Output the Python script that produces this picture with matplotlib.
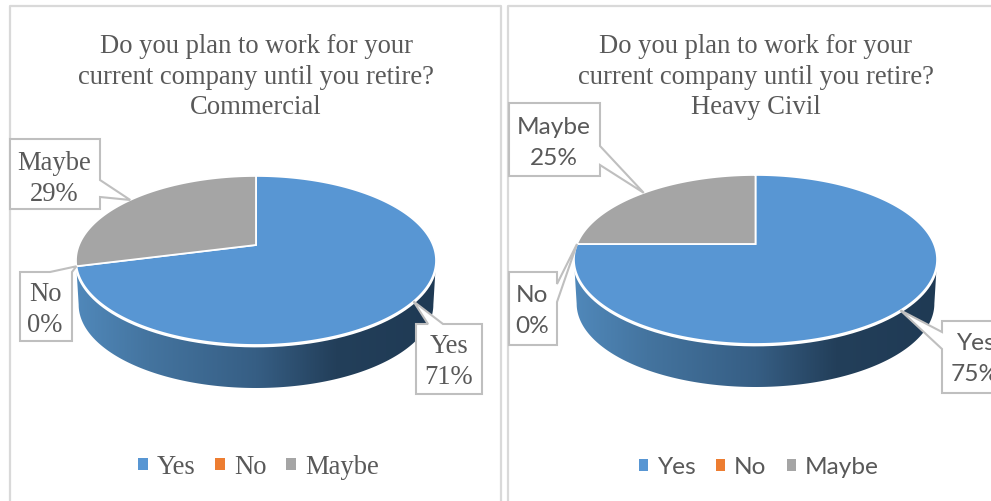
import numpy as np
import matplotlib
matplotlib.use('Agg')
import matplotlib.pyplot as plt
from matplotlib.colors import LinearSegmentedColormap
from matplotlib.patches import Patch, Polygon

categories = ['Yes', 'No', 'Maybe']
commercial_values = [71, 0, 29]
heavy_civil_values = [75, 0, 25]
title_lines = ['Do you plan to work for your', 'current company until you retire?']
commercial_name = 'Commercial'
heavy_civil_name = 'Heavy Civil'

colors = ['#5896d3', '#ed7d31', '#a5a5a5']
text_color = '#595959'
frame_color = '#d9d9d9'
callout_color = '#bfbfbf'
wall_cmap = LinearSegmentedColormap.from_list(
    'wall', [(0.0, '#5088ba'), (0.2, '#44749f'), (0.5, '#365e84'),
             (0.72, '#233f5a'), (1.0, '#1f3a54')])

FIG_W, FIG_H = 991, 502
PERSPECTIVE = 0.183
RY = 81.7
DEPTH = 44.5


def project(theta, cx, cy, rx, ry=RY):
    # clockwise from 12 o'clock, tilted disc seen in perspective
    u, v = np.sin(theta), np.cos(theta)
    d = 1 + PERSPECTIVE * v
    return cx + rx * u / d, cy - ry * v / d


def slice_angles(values):
    edges = np.cumsum([0] + list(values)) / np.sum(values) * 2 * np.pi
    return edges[:-1], edges[1:]


def draw_wall(ax, cx, cy, rx):
    theta = np.linspace(0, 2 * np.pi, 721)
    top_x, top_y = project(theta, cx, cy, rx)
    low_x, low_y = project(theta, cx, cy + DEPTH, rx * 0.985, RY * 0.985)
    i_right, i_left = np.argmax(low_x), np.argmin(low_x)
    j_right, j_left = np.argmax(top_x), np.argmin(top_x)
    xs = np.r_[top_x[j_right:j_left + 1], low_x[i_right:i_left + 1][::-1]]
    ys = np.r_[top_y[j_right:j_left + 1], low_y[i_right:i_left + 1][::-1]]
    clip = Polygon(np.c_[xs, ys], closed=True, fc='none', ec='none', transform=ax.transData)
    ax.add_patch(clip)
    im = ax.imshow(np.linspace(0, 1, 256)[None, :], cmap=wall_cmap, aspect='auto',
                   extent=(xs.min(), xs.max(), ys.max(), ys.min()), zorder=1)
    im.set_clip_path(clip)
    # white rim along the front of the disc
    ax.plot(top_x[j_right:j_left + 1], top_y[j_right:j_left + 1] + 1, color='white', lw=2.0, zorder=2)


def draw_pie(ax, values, cx, cy, rx):
    draw_wall(ax, cx, cy, rx)
    starts, stops = slice_angles(values)
    for start, stop, value, color in zip(starts, stops, values, colors):
        if value == 0:
            continue
        theta = np.linspace(start, stop, 240)
        x, y = project(theta, cx, cy, rx)
        ax.fill(np.r_[cx, x], np.r_[cy, y], fc=color, ec='white', lw=1.3, zorder=3, joinstyle='miter')


def draw_callout(ax, tip, box, side, base, zorder=5):
    x0, y0, x1, y1 = box
    a, b = base
    pts = [(x0, y0)]
    if side == 'top':
        pts += [(a, y0), tip, (b, y0)]
    pts += [(x1, y0)]
    if side == 'right':
        pts += [(x1, a), tip, (x1, b)]
    pts += [(x1, y1), (x0, y1)]
    if side == 'left':
        pts += [(x0, b), tip, (x0, a)]
    ax.add_patch(Polygon(pts, closed=True, fc='white', ec=callout_color, lw=1.5,
                         zorder=zorder, joinstyle='miter'))


def draw_panel(bounds, frame, values, name, center, rx, callouts, family, size, legend_xy, legend_opts):
    left, right = bounds
    ax = fig.add_axes([left / FIG_W, 0, (right - left) / FIG_W, 1])
    cx, cy = center
    draw_pie(ax, values, cx, cy, rx)

    starts, stops = slice_angles(values)
    for i, cat in enumerate(categories):
        mid = (starts[i] + stops[i]) / 2
        tip = project(mid, cx, cy, rx)
        box, side, base, text_xy = callouts[cat]
        draw_callout(ax, tip, box, side, base)
        ax.text(text_xy[0], text_xy[1] + 2, cat, ha='center', va='center', fontsize=size,
                family=family, color=text_color, zorder=6)
        ax.text(text_xy[0], text_xy[1] + 33, f'{values[i]}%', ha='center', va='center',
                fontsize=size, family=family, color=text_color, zorder=6)

    for i, line in enumerate(title_lines + [name]):
        ax.text(cx, 46.5 + 30.5 * i, line, ha='center', va='center', fontsize=19.2,
                family='Liberation Serif', color=text_color, zorder=4)

    handles = [Patch(fc=c, ec='none', label=l) for c, l in zip(colors, categories)]
    ax.legend(handles=handles, ncol=3, loc='center', bbox_to_anchor=legend_xy,
              bbox_transform=ax.transData, frameon=False, borderpad=0, borderaxespad=0,
              handlelength=0.36, handleheight=0.36, labelcolor=text_color,
              prop={'family': family, 'size': size}, **legend_opts)

    ax.plot(frame[0], frame[1], color=frame_color, lw=1.6, zorder=0)
    ax.set_xlim(left, right)
    ax.set_ylim(FIG_H, 0)
    ax.axis('off')
    return ax


fig = plt.figure(figsize=(FIG_W / 100, FIG_H / 100), dpi=100, facecolor='white')

commercial_callouts = {
    'Yes': ((416, 325, 482, 395), 'top', (428, 443), (449, 345)),
    'No': ((20, 273, 72, 342), 'top', (50, 72), (45, 293)),
    'Maybe': ((10, 140, 100, 210), 'right', (181, 198), (54, 162)),
}
heavy_callouts = {
    'Yes': ((942, 322, 1010, 394), 'left', (333, 350), (975, 342)),
    'No': ((509, 273, 557, 346), 'right', (285, 303), (532, 294)),
    'Maybe': ((509, 104, 600, 177), 'right', (147, 166), (554, 126)),
}

draw_panel((0, 505), ([10, 10, 501, 501], [502, 7, 7, 502]), commercial_values, commercial_name,
           (256, 246), 177, commercial_callouts, 'Liberation Serif', 19.2, (258.5, 468),
           {'handletextpad': 0.36, 'columnspacing': 0.72})
draw_panel((505, 991), ([508, 508, 1000], [502, 7, 7]), heavy_civil_values, heavy_civil_name,
           (755.5, 245), 178.5, heavy_callouts, 'Lato', 17.6, (759, 468),
           {'handletextpad': 0.36, 'columnspacing': 0.86})

fig.savefig('out.png', dpi=100, facecolor='white')
